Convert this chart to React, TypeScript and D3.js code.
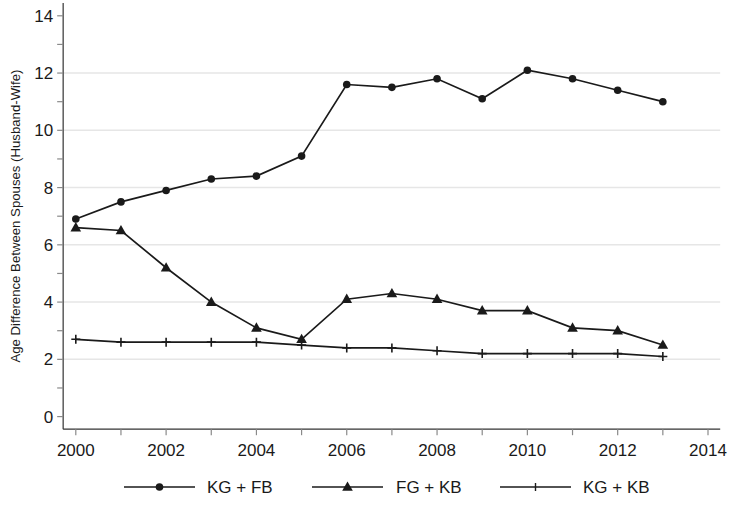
import React from "react";
import * as d3 from "d3";

const years = [2000, 2001, 2002, 2003, 2004, 2005, 2006, 2007, 2008, 2009, 2010, 2011, 2012, 2013];
const kgFb = [6.9, 7.5, 7.9, 8.3, 8.4, 9.1, 11.6, 11.5, 11.8, 11.1, 12.1, 11.8, 11.4, 11.0];
const fgKb = [6.6, 6.5, 5.2, 4.0, 3.1, 2.7, 4.1, 4.3, 4.1, 3.7, 3.7, 3.1, 3.0, 2.5];
const kgKb = [2.7, 2.6, 2.6, 2.6, 2.6, 2.5, 2.4, 2.4, 2.3, 2.2, 2.2, 2.2, 2.2, 2.1];
const seriesNames = ["KG + FB", "FG + KB", "KG + KB"];
const xTickLabels = [2000, 2002, 2004, 2006, 2008, 2010, 2012, 2014];
const xMinorTicks = [2001, 2003, 2005, 2007, 2009, 2011, 2013];
const yTickLabels = [0, 2, 4, 6, 8, 10, 12, 14];
const yMinorTicks = [1, 3, 5, 7, 9, 11, 13];
const gridValues = [2, 4, 6, 8, 10, 12];
const yTitle = "Age Difference Between Spouses (Husband-Wife)";

const W = 730;
const H = 505;
const FONT = "'Liberation Sans', Arial, sans-serif";
const INK = "#1a1a1a";

export default function App() {
  const x = d3.scaleLinear().domain([2000, 2014]).range([75.8, 708]);
  const y = d3.scaleLinear().domain([0, 14]).range([416.6, 15.8]);
  const xLeft = x(1999.72);
  const xRight = x(2014.27);
  const yBottom = y(-0.44);
  const yTop = y(14.45);

  const series = [kgFb, fgKb, kgKb];
  const line = d3
    .line<number>()
    .x((_, i) => x(years[i]))
    .y((d) => y(d));

  const marker = (kind: number, cx: number, cy: number, key: string) => {
    if (kind === 0) return <circle key={key} cx={cx} cy={cy} r={3.8} fill={INK} />;
    if (kind === 1) {
      const s = 5.6;
      const p = `M${cx},${cy - s} L${cx + s * 0.95},${cy + s * 0.68} L${cx - s * 0.95},${cy + s * 0.68} Z`;
      return <path key={key} d={p} fill={INK} />;
    }
    return (
      <path
        key={key}
        d={`M${cx - 4.5},${cy} H${cx + 4.5} M${cx},${cy - 4.5} V${cy + 4.5}`}
        stroke={INK}
        strokeWidth={1.6}
        fill="none"
      />
    );
  };

  const legendY = 487;
  const legendItems = [
    { x0: 124, x1: 195, tx: 207 },
    { x0: 312, x1: 383, tx: 396 },
    { x0: 500, x1: 571, tx: 583 },
  ];

  return (
    <svg
      width={W}
      height={H}
      style={{ position: "absolute", left: 0, top: 0, background: "#fff" }}
      fontFamily={FONT}
    >
      <rect x={0} y={0} width={W} height={H} fill="#fff" />
      {/* grid */}
      {gridValues.map((v) => (
        <line key={"g" + v} x1={xLeft} x2={xRight} y1={y(v)} y2={y(v)} stroke="#e6e6e6" strokeWidth={1.5} />
      ))}
      {/* y axis */}
      <line x1={xLeft} x2={xLeft} y1={yTop} y2={yBottom} stroke="#333" strokeWidth={1.2} />
      {[...yTickLabels, ...yMinorTicks].map((v) => (
        <line key={"yt" + v} x1={xLeft - 6} x2={xLeft} y1={y(v)} y2={y(v)} stroke="#8a8a8a" strokeWidth={1.2} />
      ))}
      {yTickLabels.map((v) => (
        <text key={"yl" + v} x={xLeft - 10} y={y(v)} dy="0.36em" textAnchor="end" fontSize={17} fill={INK}>
          {v}
        </text>
      ))}
      {/* x axis */}
      <line x1={xLeft} x2={xRight} y1={yBottom} y2={yBottom} stroke="#333" strokeWidth={1.2} />
      {[...xTickLabels, ...xMinorTicks].map((v) => (
        <line key={"xt" + v} x1={x(v)} x2={x(v)} y1={yBottom} y2={yBottom + 6} stroke="#8a8a8a" strokeWidth={1.2} />
      ))}
      {xTickLabels.map((v) => (
        <text key={"xl" + v} x={x(v)} y={yBottom + 21} dy="0.36em" textAnchor="middle" fontSize={17} fill={INK}>
          {v}
        </text>
      ))}
      {/* y title */}
      <text
        transform={`translate(19.5, ${(yTop + yBottom) / 2}) rotate(-90)`}
        textAnchor="middle"
        fontSize={13.2}
        fill={INK}
      >
        {yTitle}
      </text>
      {/* series */}
      {series.map((s, k) => (
        <g key={"s" + k}>
          <path d={line(s) || ""} fill="none" stroke={INK} strokeWidth={1.7} />
          {s.map((v, i) => marker(k, x(years[i]), y(v), `m${k}-${i}`))}
        </g>
      ))}
      {/* legend */}
      {legendItems.map((it, k) => (
        <g key={"lg" + k}>
          <line x1={it.x0} x2={it.x1} y1={legendY} y2={legendY} stroke={INK} strokeWidth={1.7} />
          {k === 2 ? (
            <path
              d={`M${(it.x0 + it.x1) / 2},${legendY - 4} V${legendY + 4}`}
              stroke={INK}
              strokeWidth={1.4}
            />
          ) : (
            marker(k, (it.x0 + it.x1) / 2, legendY, "lm" + k)
          )}
          <text x={it.tx} y={legendY} dy="0.36em" fontSize={17} fill={INK}>
            {seriesNames[k]}
          </text>
        </g>
      ))}
    </svg>
  );
}
